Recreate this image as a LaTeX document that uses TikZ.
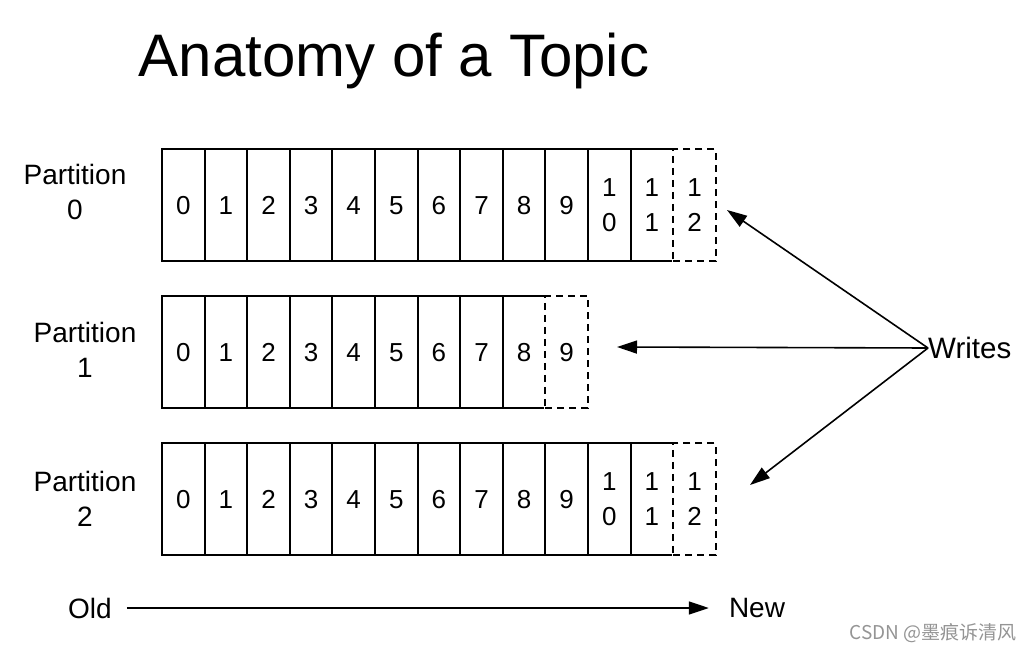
\documentclass[tikz,border=0pt]{standalone}
\usepackage{fontspec}
\setmainfont{Liberation Sans}
\newfontfamily\cjk{Noto Sans CJK SC}
\usetikzlibrary{arrows.meta}
\begin{document}
\begin{tikzpicture}[x=1pt,y=-1pt,
  cell/.style={draw,line width=1.9pt,minimum width=42.6pt,minimum height=112pt,inner sep=0pt,outer sep=0pt,anchor=north west,font=\fontsize{26}{35}\selectfont,align=center},
  one/.style={text height=18.6pt,text depth=0pt},
  newcell/.style={cell,dash pattern=on 7pt off 5pt,preaction={draw=white,solid,line width=2.6pt}},
  lbl/.style={font=\fontsize{28}{35}\selectfont,align=center},
  wr/.style={line width=1.6pt,-{Triangle[length=20pt,width=13pt]}}]
\useasboundingbox (0,0) rectangle (1035,652);
\node[font=\fontsize{60}{62}\selectfont,anchor=base] (title) at (394,77) {Anatomy of a Topic};
% partition 0
\foreach \i in {0,...,9} {\node[cell,one] (a\i) at ({162+42.6*\i},149) {\i};}
\node[cell] (a10) at ({162+42.6*10},149) {1\\0};
\node[cell] (a11) at ({162+42.6*11},149) {1\\1};
\node[newcell] (a12) at ({162+42.6*12},149) {1\\2};
% partition 1
\foreach \i in {0,...,8} {\node[cell,one] (b\i) at ({162+42.6*\i},296) {\i};}
\node[newcell,one] (b9) at ({162+42.6*9},296) {9};
% partition 2
\foreach \i in {0,...,9} {\node[cell,one] (c\i) at ({162+42.6*\i},443) {\i};}
\node[cell] (c10) at ({162+42.6*10},443) {1\\0};
\node[cell] (c11) at ({162+42.6*11},443) {1\\1};
\node[newcell] (c12) at ({162+42.6*12},443) {1\\2};
% labels
\node[lbl] (p0) at (75,192) {Partition\\0};
\node[lbl] (p1) at (85,350) {Partition\\1};
\node[lbl] (p2) at (85,499) {Partition\\2};
\node[lbl,font=\fontsize{29.5}{35}\selectfont,anchor=west,inner sep=0pt] (writes) at (928,348) {Writes};
\coordinate (t0) at (727,210);
\coordinate (t1) at (617,347);
\coordinate (t2) at (750,485);
\draw[wr] (writes.west) -- (t0);
\draw[wr] (writes.west) -- (t1);
\draw[wr] (writes.west) -- (t2);
% old / new
\node[lbl,inner sep=0pt] (old) at (90,608) {Old};
\node[lbl,inner sep=0pt] (new) at (757,608) {New};
\draw[wr,shorten <=15pt,shorten >=20pt] (old.east) -- (new.west);
\node[font=\cjk\fontsize{19}{22}\selectfont,text=black!42] (wm) at (933,633) {CSDN @墨痕诉清风};
\end{tikzpicture}
\end{document}
